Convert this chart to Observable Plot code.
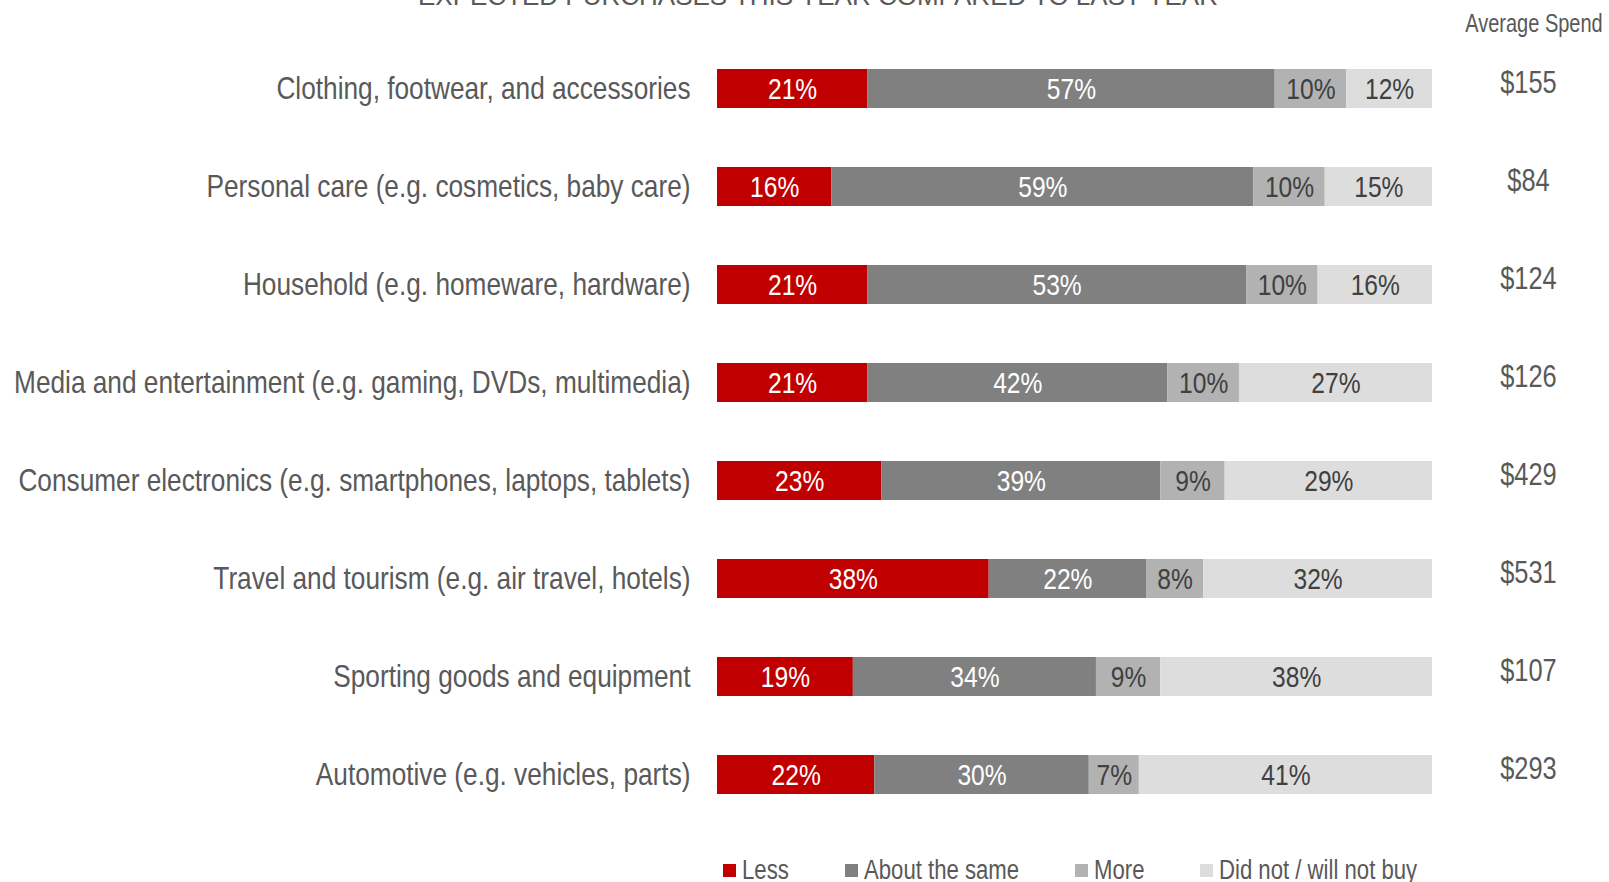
<!DOCTYPE html>
<html>
<head>
<meta charset="utf-8">
<script src="https://cdn.jsdelivr.net/npm/d3@7"></script>
<script src="https://cdn.jsdelivr.net/npm/@observablehq/plot@0.6"></script>
<style>
  html, body { margin: 0; padding: 0; background: #fff; overflow: hidden; }
  body { width: 1609px; height: 882px; position: relative; font-family: "Liberation Sans", Arial, sans-serif; color: #595959; }
  #title { position: absolute; left: 0; width: 1636px; text-align: center; top: -17px; font-size: 26px; line-height: 26px; white-space: nowrap; }
  #avg { position: absolute; left: 1434px; width: 200px; text-align: center; top: 8px; font-size: 25px; line-height: 30px; white-space: nowrap; }
  #avg span { display: inline-block; transform: scaleX(0.8); transform-origin: center; }
  #chart { position: absolute; left: 0; top: 0; }
  #legend { position: absolute; left: 0; top: 855px; width: 1609px; height: 30px; font-size: 27px; line-height: 30px; white-space: nowrap; }
  #legend .item { position: absolute; top: 0; display: flex; align-items: center; }
  #legend .sw { width: 13px; height: 13px; margin-right: 6px; flex: none; }
  #legend .txt { display: inline-block; transform: scaleX(0.82); transform-origin: left center; }
</style>
</head>
<body>
<div id="title">EXPECTED PURCHASES THIS YEAR COMPARED TO LAST YEAR</div>
<div id="avg"><span>Average Spend</span></div>
<div id="chart"></div>
<div id="legend"></div>
<script>
const categories = [
  "Clothing, footwear, and accessories",
  "Personal care (e.g. cosmetics, baby care)",
  "Household (e.g. homeware, hardware)",
  "Media and entertainment (e.g. gaming, DVDs, multimedia)",
  "Consumer electronics (e.g. smartphones, laptops, tablets)",
  "Travel and tourism (e.g. air travel, hotels)",
  "Sporting goods and equipment",
  "Automotive (e.g. vehicles, parts)"
];
const responses = ["Less", "About the same", "More", "Did not / will not buy"];
const colors = ["#C00000", "#808080", "#B2B2B2", "#DDDDDD"];
const less = [21, 16, 21, 21, 23, 38, 19, 22];
const same = [57, 59, 53, 42, 39, 22, 34, 30];
const more = [10, 10, 10, 10, 9, 8, 9, 7];
const didNot = [12, 15, 16, 27, 29, 32, 38, 41];
const avgSpend = ["$155", "$84", "$124", "$126", "$429", "$531", "$107", "$293"];

const series = [less, same, more, didNot];
const rows = [];
categories.forEach((c, i) => {
  responses.forEach((r, j) => rows.push({category: c, response: r, value: series[j][i]}));
});
const spendRows = categories.map((c, i) => ({category: c, spend: avgSpend[i]}));
const darkBg = new Set(["Less", "About the same"]);

const plot = Plot.plot({
  width: 1609,
  height: 856.3,
  marginTop: 5.5,
  marginBottom: 0,
  marginLeft: 717,
  marginRight: 177,
  style: {fontFamily: '"Liberation Sans", Arial, sans-serif', color: "#595959", background: "transparent"},
  x: {domain: [0, 100], axis: null},
  y: {domain: categories, padding: 0.6055, label: null},
  color: {domain: responses, range: colors},
  marks: [
    Plot.axisY({tickSize: 0, tickPadding: 27, fontSize: 32, label: null}),
    Plot.barX(rows, {x: "value", y: "category", fill: "response"}),
    Plot.text(rows, Plot.filter(d => darkBg.has(d.response),
      Plot.stackX({x: "value", y: "category", z: "response", text: d => d.value + "%", fill: "white", fontSize: 30}))),
    Plot.text(rows, Plot.filter(d => !darkBg.has(d.response),
      Plot.stackX({x: "value", y: "category", z: "response", text: d => d.value + "%", fill: "#404040", fontSize: 30}))),
    Plot.text(spendRows, {y: "category", text: "spend", frameAnchor: "right", textAnchor: "middle", dx: 96, dy: -6, fontSize: 31, fill: "#595959"})
  ]
});
document.getElementById("chart").appendChild(plot);

// condense SVG text horizontally (Arial Narrow look)
plot.querySelectorAll("text").forEach(t => {
  const xa = t.getAttribute("x");
  const x = xa == null ? 0 : parseFloat(xa);
  if (xa != null && !/^-?[\d.]+$/.test(xa.trim())) return;
  t.removeAttribute("x");
  const tr = t.getAttribute("transform") || "";
  t.setAttribute("transform", `${tr} translate(${x},0) scale(0.82,1)`);
});

const legend = document.getElementById("legend");
let left = 723;
const gap = 56;
responses.forEach((r, i) => {
  const item = document.createElement("div");
  item.className = "item";
  item.style.left = left + "px";
  const sw = document.createElement("span");
  sw.className = "sw";
  sw.style.background = colors[i];
  const t = document.createElement("span");
  t.className = "txt";
  t.textContent = r;
  item.appendChild(sw);
  item.appendChild(t);
  legend.appendChild(item);
  const w = t.getBoundingClientRect().right - item.getBoundingClientRect().left;
  left += w + gap;
});
</script>
</body>
</html>
